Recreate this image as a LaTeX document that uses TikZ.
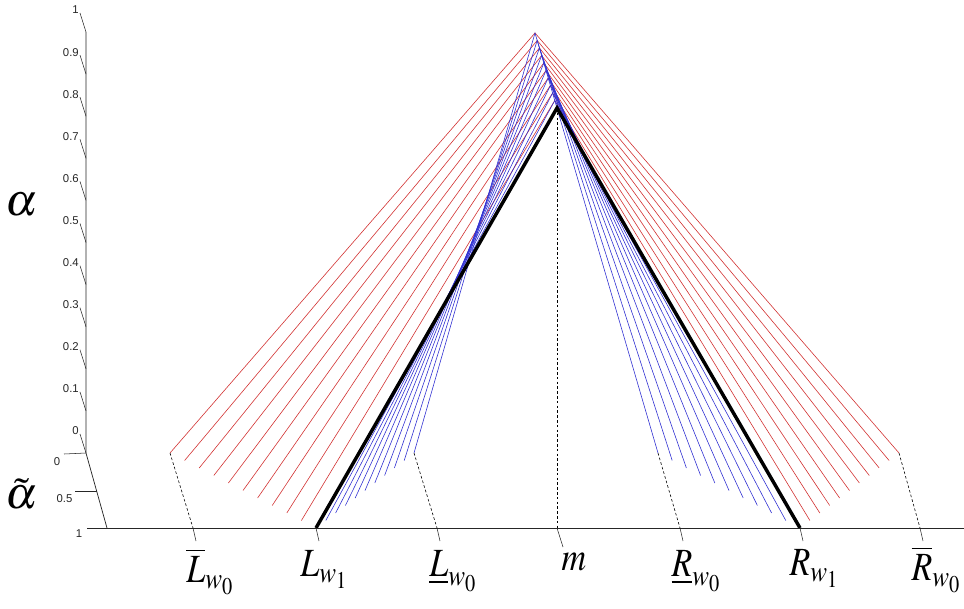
\documentclass[tikz,border=0pt]{standalone}
\usepackage{mathptmx}
\usepackage{fontspec}
\setsansfont{Liberation Sans}
\usetikzlibrary{calc}
\definecolor{fuzzred}{RGB}{210,50,50}
\definecolor{fuzzblue}{RGB}{50,50,210}

\begin{document}
\begin{tikzpicture}[
    x=0.75pt, y=-0.75pt,
    redline/.style={fuzzred, line width=0.45pt},
    blueline/.style={fuzzblue, line width=0.45pt},
    fuzzline/.style={black, line width=2.6pt, line join=miter},
    axisline/.style={black!85, line width=0.55pt},
    proj/.style={black, line width=0.45pt, dash pattern=on 2pt off 1.6pt},
    ticklab/.style={font=\sffamily\fontsize{8.5}{9}\selectfont, text=black!85, inner sep=0pt},
    biglab/.style={font=\fontsize{30}{32}\selectfont, inner sep=0pt, anchor=north}
]
\useasboundingbox (0,0) rectangle (964,608);
% slices of the fuzzy numbers, alpha-tilde = k/10
\foreach \k in {0,...,10}{
    \pgfmathsetmacro{\a}{\k/10}
    \coordinate (ap\k) at ({535+22*\a},{33+75*\a});
    \coordinate (rl\k) at ({170+146*\a},{453+75*\a});
    \coordinate (bl\k) at ({414-98*\a},{453+75*\a});
    \coordinate (br\k) at ({658+142*\a},{453+75*\a});
    \coordinate (rr\k) at ({899-99*\a},{453+75*\a});
}
% outer (red) family
\foreach \k in {0,...,9}{
    \draw[redline] (rl\k) -- (ap\k) -- (rr\k);
}
% inner (blue) family
\foreach \k in {0,...,9}{
    \draw[blueline] (bl\k) -- (ap\k) -- (br\k);
}
% common slice
\draw[fuzzline] (rl10) -- (ap10) -- (rr10);

% axes
\coordinate (atop) at (86,32);
\coordinate (aorig) at (86,453);
\coordinate (tcorner) at (107,528);
\coordinate (xstart) at (87,528);
\coordinate (xend) at (964,528);
\draw[axisline] (atop) -- (aorig) -- (tcorner);
\draw[axisline] (xstart) -- (xend);
% alpha ticks
\foreach \i in {0,...,10}{
    \pgfmathsetmacro{\ty}{453-42.1*\i}
    \coordinate (at\i) at (86,\ty);
    \draw[axisline, line width=0.4pt] (at\i) -- ++(-6,-19);
    \ifnum\i=10
        \node[ticklab, anchor=east] (al\i) at (79,{\ty-22}) {1};
    \else\ifnum\i=0
        \node[ticklab, anchor=east] (al\i) at (79,{\ty-22}) {0};
    \else
        \node[ticklab, anchor=east] (al\i) at (79,{\ty-22}) {0.\i};
    \fi\fi
}
% alpha-tilde ticks
\coordinate (tt0) at (64,454);
\coordinate (tt5) at (75,491);
\coordinate (tt5b) at (96.5,491);
\draw[axisline, line width=0.4pt] (tt0) -- (aorig);
\draw[axisline, line width=0.4pt] (tt5) -- (tt5b);
\node[ticklab] (tl0) at (57,462) {0};
\node[ticklab] (tl5) at (64.5,499) {0.5};
\node[ticklab] (tl1) at (79,533.5) {1};
\node[font=\fontsize{34}{36}\selectfont, inner sep=0pt, anchor=east] (alab) at (38,205) {$\alpha$};
\node[font=\fontsize{34}{36}\selectfont, inner sep=0pt, anchor=south east] (tlab) at (38,510) {$\tilde{\alpha}$};

% points on the base line
\coordinate (Lbar) at (193,528);
\coordinate (Lw1) at (316,528);
\coordinate (Lund) at (437,528);
\coordinate (mm) at (557,528);
\coordinate (Rund) at (680,528);
\coordinate (Rw1) at (800,528);
\coordinate (Rbar) at (920,528);
\foreach \p in {Lbar,Lw1,Lund,Rund,Rw1,Rbar}{
    \draw[axisline, line width=0.4pt] (\p) -- ++(3,13);
}
\draw[axisline, line width=0.4pt] (mm) -- ++(6,19);
% projections down to the base line
\draw[proj] (rl0) -- (Lbar);
\draw[proj] (bl0) -- (Lund);
\draw[proj] (br0) -- (Rund);
\draw[proj] (rr0) -- (Rbar);
\draw[proj] (ap10) -- (mm);

% labels
\node[biglab] (nLbar) at (210,548) {\scalebox{0.85}[1]{$\overline{L}_{w_0}$}};
\node[biglab] (nLw1) at (324,550) {\scalebox{0.85}[1]{$L_{w_1}$}};
\node[biglab] (nLund) at (453,550) {\scalebox{0.85}[1]{$\underline{L}_{w_0}$}};
\node[biglab] (nm) at (574,553) {\scalebox{0.85}[1]{$m$}};
\node[biglab] (nRund) at (696,550) {\scalebox{0.85}[1]{$\underline{R}_{w_0}$}};
\node[biglab] (nRw1) at (814,549) {\scalebox{0.85}[1]{$R_{w_1}$}};
\node[biglab] (nRbar) at (936,546) {\scalebox{0.85}[1]{$\overline{R}_{w_0}$}};
\end{tikzpicture}
\end{document}
